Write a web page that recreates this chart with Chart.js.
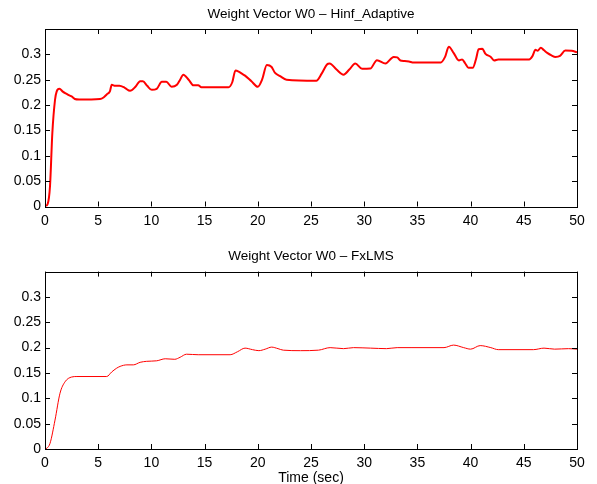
<!DOCTYPE html>
<html>
<head>
<meta charset="utf-8">
<script src="https://cdn.jsdelivr.net/npm/chart.js@4.4.0/dist/chart.umd.min.js"></script>
<style>
  html, body { margin: 0; padding: 0; background: #fff; overflow: hidden; }
  #wrap { position: relative; width: 597px; height: 484px; background: #fff; overflow: hidden; }
  canvas { position: absolute; left: 0; }
</style>
</head>
<body>
<div id="wrap">
  <canvas id="topChart" width="597" height="240" style="top:0"></canvas>
  <canvas id="bottomChart" width="597" height="247" style="top:240px"></canvas>
</div>
<script>
// Hinf_Adaptive weight W0 (time in sec, value)
const hinfTime = [0, 0.25, 0.47, 0.69, 0.94, 1.1, 1.35, 1.7, 2.04, 2.3, 2.5, 2.8, 3.2, 5.17, 5.5, 5.8, 6.1, 6.27, 6.6, 7.0,
  7.5, 8.0, 8.5, 8.94, 9.2, 9.6, 10.04, 10.5, 10.98, 11.4, 11.9, 12.4, 12.7, 13.0, 13.5, 13.95, 14.4, 14.7, 17.25, 17.6,
  17.9, 18.2, 18.5, 18.8, 19.4, 20.0, 20.4, 20.85, 21.3, 21.6, 22.1, 22.7, 25.5, 26.0, 26.5, 26.75, 27.4, 28.06, 28.6, 29.16,
  29.8, 30.57, 31.2, 32.0, 32.77, 33.1, 33.4, 33.8, 34.2, 34.65, 37.2, 37.6, 37.95, 38.4, 38.9, 39.2, 39.5, 39.8, 40.2, 40.5,
  40.76, 41.1, 41.4, 41.9, 42.2, 42.6, 45.5, 45.8, 46.1, 46.3, 46.6, 46.9, 47.2, 47.6, 47.98, 48.4, 48.9, 49.5, 50];
const hinfW0 = [0, 0.005, 0.04, 0.145, 0.21, 0.227, 0.232, 0.226, 0.222, 0.219, 0.217, 0.212, 0.211, 0.212, 0.215, 0.221, 0.227, 0.24, 0.238, 0.238,
  0.234, 0.228, 0.236, 0.247, 0.247, 0.238, 0.23, 0.232, 0.246, 0.246, 0.236, 0.24, 0.25, 0.26, 0.25, 0.239, 0.239, 0.235, 0.235, 0.245,
  0.268, 0.266, 0.262, 0.258, 0.247, 0.236, 0.25, 0.279, 0.275, 0.264, 0.257, 0.25, 0.248, 0.262, 0.28, 0.282, 0.27, 0.26, 0.27, 0.282,
  0.2715, 0.272, 0.2886, 0.282, 0.295, 0.294, 0.288, 0.287, 0.286, 0.284, 0.284, 0.295, 0.315, 0.303, 0.288, 0.29, 0.282, 0.2735, 0.2735, 0.29,
  0.31, 0.311, 0.301, 0.295, 0.288, 0.29, 0.29, 0.296, 0.309, 0.307, 0.313, 0.308, 0.303, 0.298, 0.295, 0.297, 0.3076, 0.307, 0.304];

// FxLMS weight W0
const fxlmsTime = [0, 0.2, 0.47, 0.94, 1.41, 1.88, 2.5, 3.0, 5.8, 6.27, 6.7, 7.06, 7.7, 8.3, 8.94, 9.56, 10.5, 11.3, 12.2, 12.7,
  13.3, 14.4, 17.4, 18.1, 18.8, 19.5, 20.1, 20.7, 21.3, 21.9, 22.4, 24.0, 25.7, 26.8, 28.06, 29.0, 30.6, 32.1, 33.1, 34.4,
  37.5, 38.4, 39.35, 40.0, 40.9, 41.9, 42.6, 45.9, 46.9, 47.9, 49.2, 50];
const fxlmsW0 = [0, 0.002, 0.011, 0.057, 0.11, 0.1325, 0.142, 0.143, 0.143, 0.152, 0.159, 0.163, 0.166, 0.166, 0.171, 0.173, 0.174, 0.178, 0.177, 0.181,
  0.187, 0.186, 0.186, 0.192, 0.199, 0.196, 0.194, 0.197, 0.201, 0.198, 0.195, 0.194, 0.195, 0.2, 0.198, 0.2, 0.199, 0.198, 0.2, 0.2,
  0.2, 0.205, 0.2, 0.197, 0.204, 0.2, 0.196, 0.196, 0.199, 0.197, 0.198, 0.197];

const xTicks = [0, 5, 10, 15, 20, 25, 30, 35, 40, 45, 50];
const yTicks = [0, 0.05, 0.1, 0.15, 0.2, 0.25, 0.3];

const FONT = "'Liberation Sans', Arial, Helvetica, sans-serif";

// box around the axes with inward tick marks, matlab style
const frameTicks = {
  id: 'frameTicks',
  afterDatasetsDraw(chart) {
    const { ctx, chartArea: a, scales } = chart;
    const len = 5;
    ctx.save();
    ctx.strokeStyle = '#000';
    ctx.lineWidth = 1;
    ctx.beginPath();
    xTicks.forEach(v => {
      const px = Math.round(scales.x.getPixelForValue(v)) + 0.5;
      ctx.moveTo(px, a.bottom); ctx.lineTo(px, a.bottom - len);
      ctx.moveTo(px, a.top); ctx.lineTo(px, a.top + len);
    });
    yTicks.forEach(v => {
      const py = Math.round(scales.y.getPixelForValue(v)) + 0.5;
      ctx.moveTo(a.left, py); ctx.lineTo(a.left + len, py);
      ctx.moveTo(a.right, py); ctx.lineTo(a.right - len, py);
    });
    ctx.stroke();
    ctx.strokeRect(Math.round(a.left) + 0.5, Math.round(a.top) + 0.5,
      Math.round(a.right - a.left), Math.round(a.bottom - a.top));
    ctx.restore();
  }
};

function makeChart(id, title, times, values, lineWidth, opts) {
  const ctx = document.getElementById(id).getContext('2d');
  return new Chart(ctx, {
    type: 'line',
    data: {
      datasets: [{
        data: times.map((t, i) => ({ x: t, y: values[i] })),
        borderColor: '#ff0000',
        borderWidth: lineWidth,
        pointRadius: 0,
        fill: false,
        cubicInterpolationMode: 'monotone'
      }]
    },
    options: {
      responsive: false,
      animation: false,
      events: [],
      layout: { padding: { left: 0, right: 20, top: 0, bottom: 0 } },
      plugins: {
        legend: { display: false },
        tooltip: { enabled: false },
        title: {
          display: true,
          fullSize: false,
          text: title,
          color: '#000',
          font: { family: FONT, size: 13.5, weight: 'normal' },
          padding: opts.titlePad
        }
      },
      scales: {
        x: {
          type: 'linear',
          min: 0,
          max: 50,
          afterBuildTicks: s => { s.ticks = xTicks.map(v => ({ value: v })); },
          afterFit: s => { s.height = opts.xHeight; },
          grid: { display: false, drawTicks: false },
          border: { display: false },
          ticks: {
            color: '#000',
            font: { family: FONT, size: 14 },
            padding: 6,
            maxRotation: 0,
            callback: v => String(v)
          },
          title: opts.xTitle
        },
        y: {
          type: 'linear',
          min: 0,
          max: 0.35,
          afterBuildTicks: s => { s.ticks = yTicks.map(v => ({ value: v })); },
          afterFit: s => { s.width = 45; },
          grid: { display: false, drawTicks: false },
          border: { display: false },
          ticks: {
            color: '#000',
            font: { family: FONT, size: 14 },
            padding: 4,
            callback: v => String(+v.toFixed(2))
          }
        }
      }
    },
    plugins: [frameTicks]
  });
}

makeChart('topChart', 'Weight Vector W0 \u2013 Hinf_Adaptive', hinfTime, hinfW0, 2, {
  titlePad: { top: 6.4, bottom: 6.4 },
  xHeight: 240 - 206.5,
  xTitle: { display: false }
});

makeChart('bottomChart', 'Weight Vector W0 \u2013 FxLMS', fxlmsTime, fxlmsW0, 1, {
  titlePad: { top: 8.4, bottom: 7 },
  xHeight: 38,
  xTitle: {
    display: true,
    text: 'Time (sec)',
    color: '#000',
    font: { family: FONT, size: 14 },
    padding: { top: 0, bottom: 0 }
  }
});
</script>
</body>
</html>
